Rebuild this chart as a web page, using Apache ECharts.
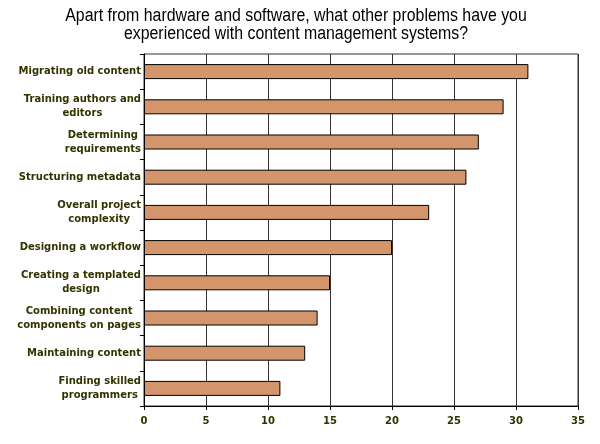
<!DOCTYPE html>
<html>
<head>
<meta charset="utf-8">
<script src="https://cdn.jsdelivr.net/npm/echarts@6/dist/echarts.min.js"></script>
<style>
  html, body { margin: 0; padding: 0; background: #fff; }
  #chart { width: 600px; height: 444px; }
</style>
</head>
<body>
<div id="chart"></div>
<script>
var categories = [
    'Migrating old content',
    'Training authors and\neditors',
    'Determining\nrequirements',
    'Structuring metadata',
    'Overall project\ncomplexity',
    'Designing a workflow',
    'Creating a templated\ndesign',
    'Combining content\ncomponents on pages',
    'Maintaining content',
    'Finding skilled\nprogrammers'
];
var values = [31, 29, 27, 26, 23, 20, 15, 14, 13, 11];
var titleLines = [
    'Apart from hardware and software, what other problems have you',
    'experienced with content management systems?'
];

var labelColor = '#333300';
var chart = echarts.init(document.getElementById('chart'));

// title font is a narrow sans in the original, squeeze a normal one
var option = {
    animation: false,
    backgroundColor: '#fff',
    graphic: [
        {
            type: 'text',
            x: 296,
            y: 7,
            scaleX: 0.882,
            style: {
                text: titleLines.join('\n'),
                x: 0,
                y: 0,
                align: 'center',
                verticalAlign: 'top',
                fontFamily: '"Liberation Sans", Arial, sans-serif',
                fontSize: 18,
                lineHeight: 18,
                fill: '#000'
            }
        }
    ],
    grid: {
        left: 144,
        right: 22,
        top: 54,
        bottom: 38,
        show: true,
        borderColor: '#333',
        borderWidth: 1,
        containLabel: false
    },
    xAxis: {
        type: 'value',
        min: 0,
        max: 35,
        interval: 5,
        axisLine: { show: true, lineStyle: { color: '#000', width: 1 } },
        axisTick: { show: true, length: 4, lineStyle: { color: '#000' } },
        splitLine: { show: true, lineStyle: { color: '#333', width: 1 } },
        axisLabel: {
            margin: 10,
            color: labelColor,
            fontFamily: '"DejaVu Sans", Verdana, sans-serif',
            fontWeight: 'bold',
            fontSize: 10
        }
    },
    yAxis: {
        type: 'category',
        inverse: true,
        data: categories,
        axisLine: { show: true, lineStyle: { color: '#000', width: 1 } },
        axisTick: { show: true, length: 4, lineStyle: { color: '#000' } },
        axisLabel: {
            margin: 3,
            interval: 0,
            align: 'right',
            formatter: function (v) { return '{c|' + v + '}'; },
            rich: {
                c: {
                    align: 'center',
                    color: labelColor,
                    fontFamily: '"DejaVu Sans", Verdana, sans-serif',
                    fontWeight: 'bold',
                    fontSize: 10,
                    lineHeight: 14
                }
            }
        }
    },
    series: [
        {
            type: 'bar',
            data: values,
            barWidth: 15,
            itemStyle: {
                color: '#d4956d',
                borderColor: '#000',
                borderWidth: 1
            }
        }
    ]
};
chart.setOption(option);
</script>
</body>
</html>
